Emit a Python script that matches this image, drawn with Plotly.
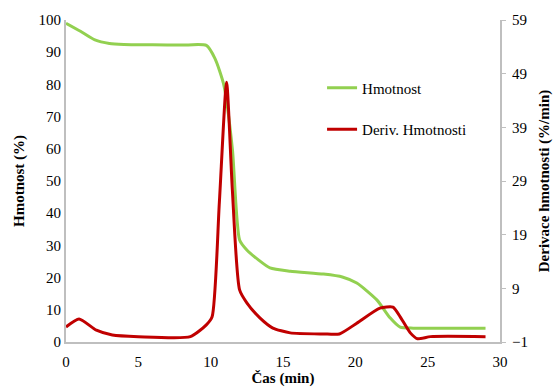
import plotly.graph_objects as go

# Hmotnost (%) vs time (min)
t_mass = [0, 1, 2, 3, 4, 6, 8, 9.7, 10.3, 10.9, 11.5, 12, 12.5, 13.3, 14.1, 15.5, 17.8, 19.1, 20.1, 21.5, 22.4, 23.1, 24, 26, 29]
mass = [99, 96.5, 93.8, 92.7, 92.4, 92.3, 92.2, 92.1, 88, 80, 60, 31.7, 28.6, 25.5, 23, 22, 21.1, 20.2, 18.3, 13, 7.5, 4.6, 4.3, 4.3, 4.3]

# Deriv. Hmotnosti (%/min)
t_deriv = [0, 0.9, 2.1, 3.2, 5, 8.6, 9.7, 10.1, 10.6, 11.1, 11.5, 12, 12.5, 13.4, 14.3, 15.5, 17.8, 18.9, 20.1, 21.7, 22.6, 23.1, 23.8, 24.3, 25.2, 29]
deriv = [1.8, 3.3, 1.2, 0.3, 0.0, 0.0, 2.2, 3.7, 25, 47.4, 27.3, 8.7, 6.3, 3.5, 1.6, 0.7, 0.5, 0.5, 2.5, 5.3, 5.5, 3.7, 0.7, -0.4, 0.0, 0.0]

x_ticks = [0, 5, 10, 15, 20, 25, 30]
y_ticks = [0, 10, 20, 30, 40, 50, 60, 70, 80, 90, 100]
y2_ticks = [-1, 9, 19, 29, 39, 49, 59]

font = "Liberation Serif"

fig = go.Figure()
fig.add_trace(go.Scatter(x=t_mass, y=mass, mode="lines", name="Hmotnost",
                         line=dict(color="#92D050", width=3, shape="spline", smoothing=0.6),
                         legendgroup="a"))
fig.add_trace(go.Scatter(x=t_deriv, y=deriv, mode="lines", name="Deriv. Hmotnosti",
                         line=dict(color="#C00000", width=3, shape="spline", smoothing=0.6),
                         yaxis="y2", legendgroup="b"))

fig.update_layout(
    width=554, height=387,
    margin=dict(l=66, r=54, t=20, b=45),
    paper_bgcolor="white", plot_bgcolor="white",
    font=dict(family=font, size=15, color="black"),
    showlegend=True,
    legend=dict(x=0.59, y=0.84, xanchor="left", yanchor="top",
                font=dict(family=font, size=15, color="black"),
                bgcolor="rgba(0,0,0,0)", tracegroupgap=19),
    xaxis=dict(range=[0, 30], tickvals=x_ticks, showgrid=False, zeroline=False,
               showline=True, linecolor="#BFBFBF", linewidth=2, ticks="", automargin=False,
               tickfont=dict(family=font, size=15), ticklabelstandoff=5,
               title=dict(text="<b>Čas (min)</b>", font=dict(family=font, size=15), standoff=0)),
    yaxis=dict(range=[0, 100], tickvals=y_ticks, showgrid=False, zeroline=False,
               showline=True, linecolor="#BFBFBF", linewidth=2, ticks="", automargin=False,
               tickfont=dict(family=font, size=15),
               title=dict(text="<b>Hmotnost (%)</b>", font=dict(family=font, size=15), standoff=10)),
    yaxis2=dict(range=[-1, 59], tickvals=y2_ticks, overlaying="y", side="right",
                showgrid=False, zeroline=False, showline=True, linecolor="#BFBFBF", linewidth=2,
                ticks="outside", ticklen=4, tickcolor="#BFBFBF", automargin=False,
                tickfont=dict(family=font, size=15), ticklabelstandoff=3,
                title=dict(text="<b>Derivace hmotnosti (%/min)</b>", font=dict(family=font, size=15), standoff=12)),
)

fig.write_html("out.html", post_script="document.body.style.margin='0';",
               config={"displayModeBar": False})
